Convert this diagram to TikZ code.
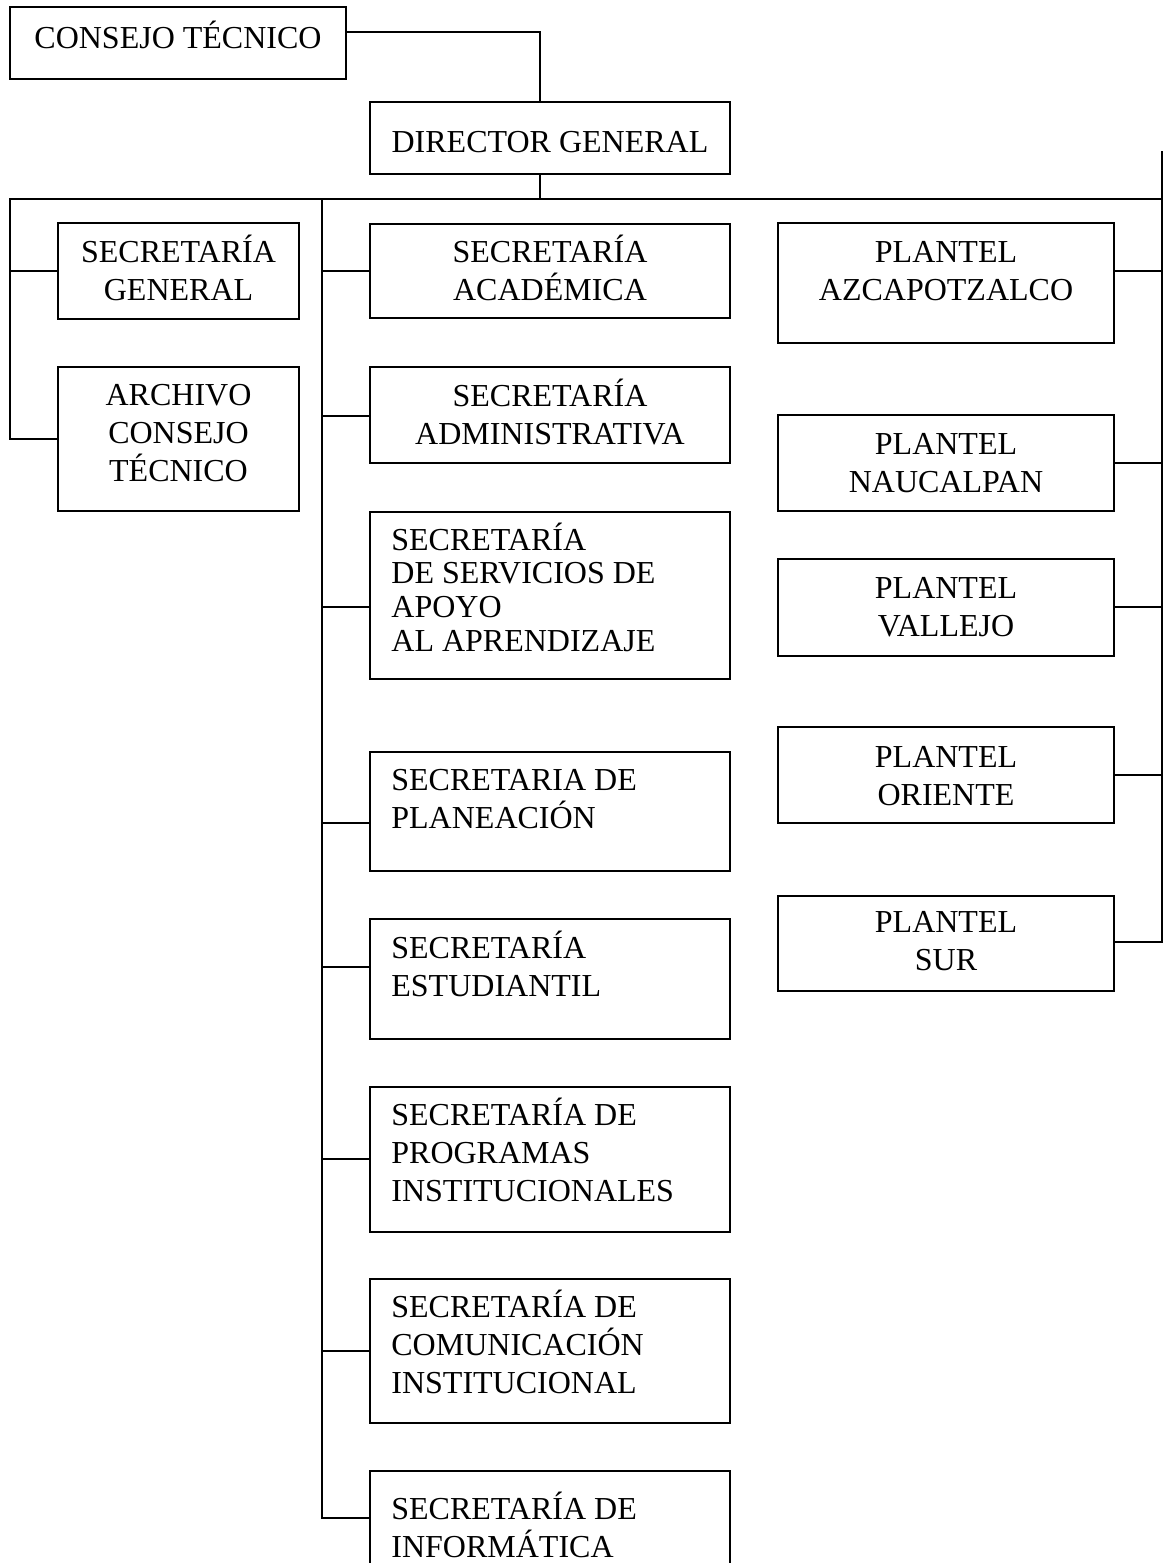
\documentclass[tikz,border=0pt]{standalone}
\usepackage{fontspec}
\setmainfont{Liberation Serif}
\usetikzlibrary{fit}
\begin{document}
\begin{tikzpicture}[x=0.5pt,y=-0.5pt,
  bx/.style={draw,line width=1pt,inner sep=0pt},
  ln/.style={line width=1pt},
  tx/.style={inner sep=0pt,font=\fontsize{16}{19}\selectfont},
  txc/.style={tx,anchor=base},
  txl/.style={tx,anchor=base west}]
\clip (0,0) rectangle (1164,1563);
\useasboundingbox (0,0) rectangle (1164,1563);

% top boxes
\node[bx,fit={(10,7) (346,79)}] (ct) {};
\node[txc] (ctT) at (178,48) {CONSEJO TÉCNICO};
\node[bx,fit={(370,102) (730,174)}] (dg) {};
\node[txc] (dgT) at (550,152) {DIRECTOR GENERAL};

% left column
\node[bx,fit={(58,223) (299,319)}] (sg) {};
\node[txc] (sgT) at (178.5,262) {\begin{tabular}[t]{@{}c@{}}SECRETARÍA\\GENERAL\end{tabular}};
\node[bx,fit={(58,367) (299,511)}] (ar) {};
\node[txc] (arT) at (178.5,405) {\begin{tabular}[t]{@{}c@{}}ARCHIVO\\CONSEJO\\TÉCNICO\end{tabular}};

% middle column
\node[bx,fit={(370,224) (730,318)}] (sa) {};
\node[txc] (saT) at (550,262) {\begin{tabular}[t]{@{}c@{}}SECRETARÍA\\ACADÉMICA\end{tabular}};
\node[bx,fit={(370,367) (730,463)}] (sd) {};
\node[txc] (sdT) at (550,406) {\begin{tabular}[t]{@{}c@{}}SECRETARÍA\\ADMINISTRATIVA\end{tabular}};
\node[bx,fit={(370,512) (730,679)}] (ss) {};
\node[txl,font=\fontsize{16}{16.85}\selectfont] (ssT) at (391,550) {\begin{tabular}[t]{@{}l@{}}SECRETARÍA\\DE SERVICIOS DE\\APOYO\\AL APRENDIZAJE\end{tabular}};
\node[bx,fit={(370,752) (730,871)}] (sp) {};
\node[txl] (spT) at (391,790) {\begin{tabular}[t]{@{}l@{}}SECRETARIA DE\\PLANEACIÓN\end{tabular}};
\node[bx,fit={(370,919) (730,1039)}] (se) {};
\node[txl] (seT) at (391,958) {\begin{tabular}[t]{@{}l@{}}SECRETARÍA\\ESTUDIANTIL\end{tabular}};
\node[bx,fit={(370,1087) (730,1232)}] (sr) {};
\node[txl] (srT) at (391,1125) {\begin{tabular}[t]{@{}l@{}}SECRETARÍA DE\\PROGRAMAS\\INSTITUCIONALES\end{tabular}};
\node[bx,fit={(370,1279) (730,1423)}] (sc) {};
\node[txl] (scT) at (391,1317) {\begin{tabular}[t]{@{}l@{}}SECRETARÍA DE\\COMUNICACIÓN\\INSTITUCIONAL\end{tabular}};
\node[bx,fit={(370,1471) (730,1610)}] (si) {};
\node[txl] (siT) at (391,1519) {\begin{tabular}[t]{@{}l@{}}SECRETARÍA DE\\INFORMÁTICA\end{tabular}};

% right column
\node[bx,fit={(778,223) (1114,343)}] (pa) {};
\node[txc] (paT) at (946,262) {\begin{tabular}[t]{@{}c@{}}PLANTEL\\AZCAPOTZALCO\end{tabular}};
\node[bx,fit={(778,415) (1114,511)}] (pn) {};
\node[txc] (pnT) at (946,454) {\begin{tabular}[t]{@{}c@{}}PLANTEL\\NAUCALPAN\end{tabular}};
\node[bx,fit={(778,559) (1114,656)}] (pv) {};
\node[txc] (pvT) at (946,598) {\begin{tabular}[t]{@{}c@{}}PLANTEL\\VALLEJO\end{tabular}};
\node[bx,fit={(778,727) (1114,823)}] (po) {};
\node[txc] (poT) at (946,767) {\begin{tabular}[t]{@{}c@{}}PLANTEL\\ORIENTE\end{tabular}};
\node[bx,fit={(778,896) (1114,991)}] (ps) {};
\node[txc] (psT) at (946,932) {\begin{tabular}[t]{@{}c@{}}PLANTEL\\SUR\end{tabular}};

% junction coordinates
\coordinate (cA) at (540,32);
\coordinate (busC) at (540,199);
\coordinate (busL) at (10,199);
\coordinate (busR) at (1162,199);
\coordinate (rTop) at (1162,151);
\coordinate (lSG) at (10,271);
\coordinate (lAR) at (10,439);
\coordinate (mTop) at (322,199);
\coordinate (m1) at (322,271);
\coordinate (m2) at (322,416);
\coordinate (m3) at (322,607);
\coordinate (m4) at (322,823);
\coordinate (m5) at (322,967);
\coordinate (m6) at (322,1159);
\coordinate (m7) at (322,1351);
\coordinate (m8) at (322,1518);
\coordinate (r1) at (1162,271);
\coordinate (r2) at (1162,463);
\coordinate (r3) at (1162,607);
\coordinate (r4) at (1162,775);
\coordinate (r5) at (1162,942);

% connectors
\draw[ln] (ct.east |- cA) -- (cA) -- (dg.north -| cA);
\draw[ln] (dg.south -| busC) -- (busC);
\draw[ln] (ar.west |- lAR) -- (lAR) -- (busL) -- (busR);
\draw[ln] (lSG) -- (sg.west |- lSG);
\draw[ln] (mTop) -- (m8) -- (si.west |- m8);
\draw[ln] (m1) -- (sa.west |- m1);
\draw[ln] (m2) -- (sd.west |- m2);
\draw[ln] (m3) -- (ss.west |- m3);
\draw[ln] (m4) -- (sp.west |- m4);
\draw[ln] (m5) -- (se.west |- m5);
\draw[ln] (m6) -- (sr.west |- m6);
\draw[ln] (m7) -- (sc.west |- m7);
\draw[ln] (rTop) -- (r5) -- (ps.east |- r5);
\draw[ln] (r1) -- (pa.east |- r1);
\draw[ln] (r2) -- (pn.east |- r2);
\draw[ln] (r3) -- (pv.east |- r3);
\draw[ln] (r4) -- (po.east |- r4);
\end{tikzpicture}
\end{document}
